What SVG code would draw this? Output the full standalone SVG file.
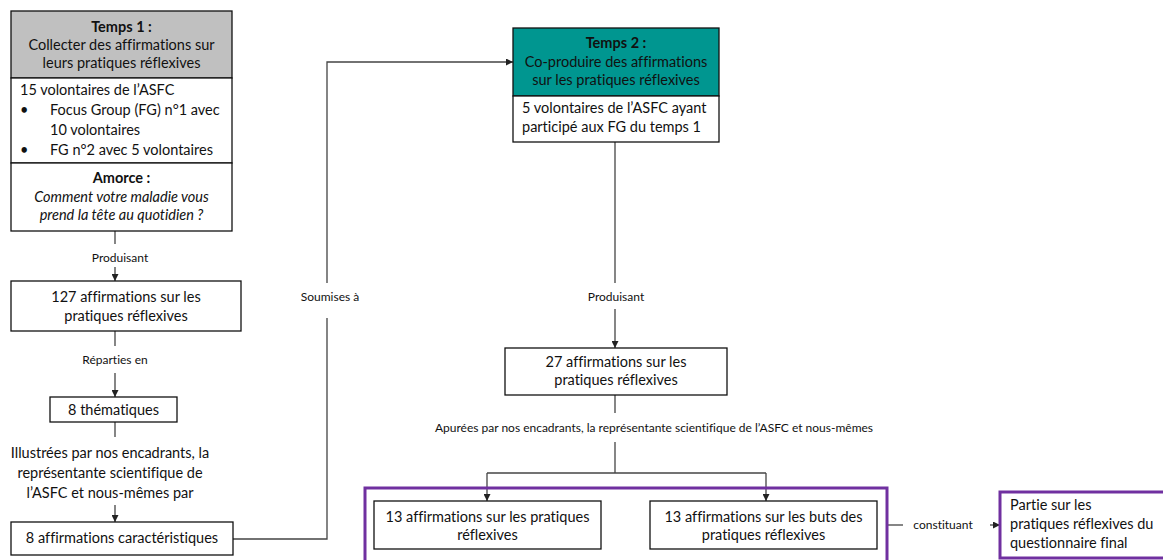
<svg xmlns="http://www.w3.org/2000/svg" width="1163" height="560" viewBox="0 0 1163 560">
<defs>
<marker id="arr" viewBox="0 0 10 10" refX="10" refY="5" markerWidth="7" markerHeight="7" markerUnits="userSpaceOnUse" orient="auto">
<path d="M0,0 L10,5 L0,10 z" fill="#222"/>
</marker>
<style>
text{font-family:Lato,"Liberation Sans",sans-serif;fill:#111;font-variant-ligatures:none}
.t{font-size:14.5px}
.c{text-anchor:middle}
.b{font-weight:bold}
.i{font-style:italic}
.s{font-size:12px}
.box{fill:#fff;stroke:#111;stroke-width:1.3}
.con{fill:none;stroke:#444;stroke-width:1.3}
.pur{fill:none;stroke:#7030A0;stroke-width:3}
</style>
</defs>
<rect width="1163" height="560" fill="#fff"/>

<g id="connectors">
<path class="con" d="M115,231 V244"/>
<path class="con" d="M115,267 V281" marker-end="url(#arr)"/>
<path class="con" d="M115,331 V346"/>
<path class="con" d="M115,373 V397" marker-end="url(#arr)"/>
<path class="con" d="M115,422 V437"/>
<path class="con" d="M115,505 V522" marker-end="url(#arr)"/>
<path class="con" d="M233,539 H327 V318"/>
<path class="con" d="M327,283 V62 H513" marker-end="url(#arr)"/>
<path class="con" d="M615,142 V283"/>
<path class="con" d="M615,309 V348" marker-end="url(#arr)"/>
<path class="con" d="M615,395 V413"/>
<path class="con" d="M615,442 V473"/>
<path class="con" d="M487,473 H766"/>
<path class="con" d="M487,473 V501" marker-end="url(#arr)"/>
<path class="con" d="M766,473 V501" marker-end="url(#arr)"/>
<path class="con" d="M887,525 H903"/>
<path class="con" d="M990,525 H1000" marker-end="url(#arr)"/>
<text class="s c" x="120" y="262">Produisant</text>
<text class="s c" x="115" y="364">Réparties en</text>
<text class="t c" x="110" y="458">Illustrées par nos encadrants, la</text>
<text class="t c" x="110" y="478">représentante scientifique de</text>
<text class="t c" x="110" y="498">l’ASFC et nous-mêmes par</text>
<text class="s c" x="330" y="301">Soumises à</text>
<text class="s c" x="616" y="301">Produisant</text>
<text class="s c" x="654" y="432">Apurées par nos encadrants, la représentante scientifique de l’ASFC et nous-mêmes</text>
<text class="s c" x="943" y="529">constituant</text>
</g>

<g id="temps1">
<rect x="11" y="11" width="221" height="67" fill="#c0c0c0" stroke="#111" stroke-width="1.3"/>
<rect class="box" x="11" y="78" width="221" height="85"/>
<rect class="box" x="11" y="163" width="221" height="68"/>
<text class="t c b" x="121.5" y="32">Temps 1 :</text>
<text class="t c" x="121.5" y="50">Collecter des affirmations sur</text>
<text class="t c" x="121.5" y="68">leurs pratiques réflexives</text>
<text class="t" x="20" y="95">15 volontaires de l’ASFC</text>
<text class="t" x="20" y="115">•</text>
<text class="t" x="50" y="115">Focus Group (FG) n°1 avec</text>
<text class="t" x="50" y="135">10 volontaires</text>
<text class="t" x="20" y="155">•</text>
<text class="t" x="50" y="155">FG n°2 avec 5 volontaires</text>
<text class="t c b" x="121.5" y="183">Amorce :</text>
<text class="t c i" x="121.5" y="202">Comment votre maladie vous</text>
<text class="t c i" x="121.5" y="220">prend la tête au quotidien ?</text>
</g>

<g id="n127">
<rect class="box" x="11" y="281" width="230" height="50"/>
<text class="t c" x="126" y="302">127 affirmations sur les</text>
<text class="t c" x="126" y="321">pratiques réflexives</text>
</g>

<g id="themes">
<rect class="box" x="50" y="397" width="127" height="25"/>
<text class="t c" x="113.5" y="415">8 thématiques</text>
</g>

<g id="n8">
<rect class="box" x="11" y="522" width="222" height="33"/>
<text class="t c" x="122" y="543">8 affirmations caractéristiques</text>
</g>

<g id="temps2">
<rect x="513" y="28" width="206" height="68" fill="#009690" stroke="#111" stroke-width="1.3"/>
<rect class="box" x="513" y="96" width="206" height="46"/>
<text class="t c b" x="616" y="48">Temps 2 :</text>
<text class="t c" x="616" y="67">Co-produire des affirmations</text>
<text class="t c" x="616" y="85">sur les pratiques réflexives</text>
<text class="t" x="522" y="113">5 volontaires de l’ASFC ayant</text>
<text class="t" x="522" y="132">participé aux FG du temps 1</text>
</g>

<g id="n27">
<rect class="box" x="505" y="348" width="222" height="47"/>
<text class="t c" x="616" y="367">27 affirmations sur les</text>
<text class="t c" x="616" y="385">pratiques réflexives</text>
</g>

<g id="group13">
<rect class="pur" x="365" y="488" width="522" height="100"/>
</g>

<g id="n13a">
<rect class="box" x="374" y="501" width="227" height="48"/>
<text class="t c" x="487.5" y="522">13 affirmations sur les pratiques</text>
<text class="t c" x="487.5" y="540">réflexives</text>
</g>

<g id="n13b">
<rect class="box" x="650" y="501" width="227" height="48"/>
<text class="t c" x="763.5" y="522">13 affirmations sur les buts des</text>
<text class="t c" x="763.5" y="540">pratiques réflexives</text>
</g>

<g id="final">
<rect class="pur" x="1000" y="492" width="200" height="66" fill="#fff"/>
<text class="t" x="1010" y="510">Partie sur les</text>
<text class="t" x="1010" y="529">pratiques réflexives du</text>
<text class="t" x="1010" y="548">questionnaire final</text>
</g>
</svg>
